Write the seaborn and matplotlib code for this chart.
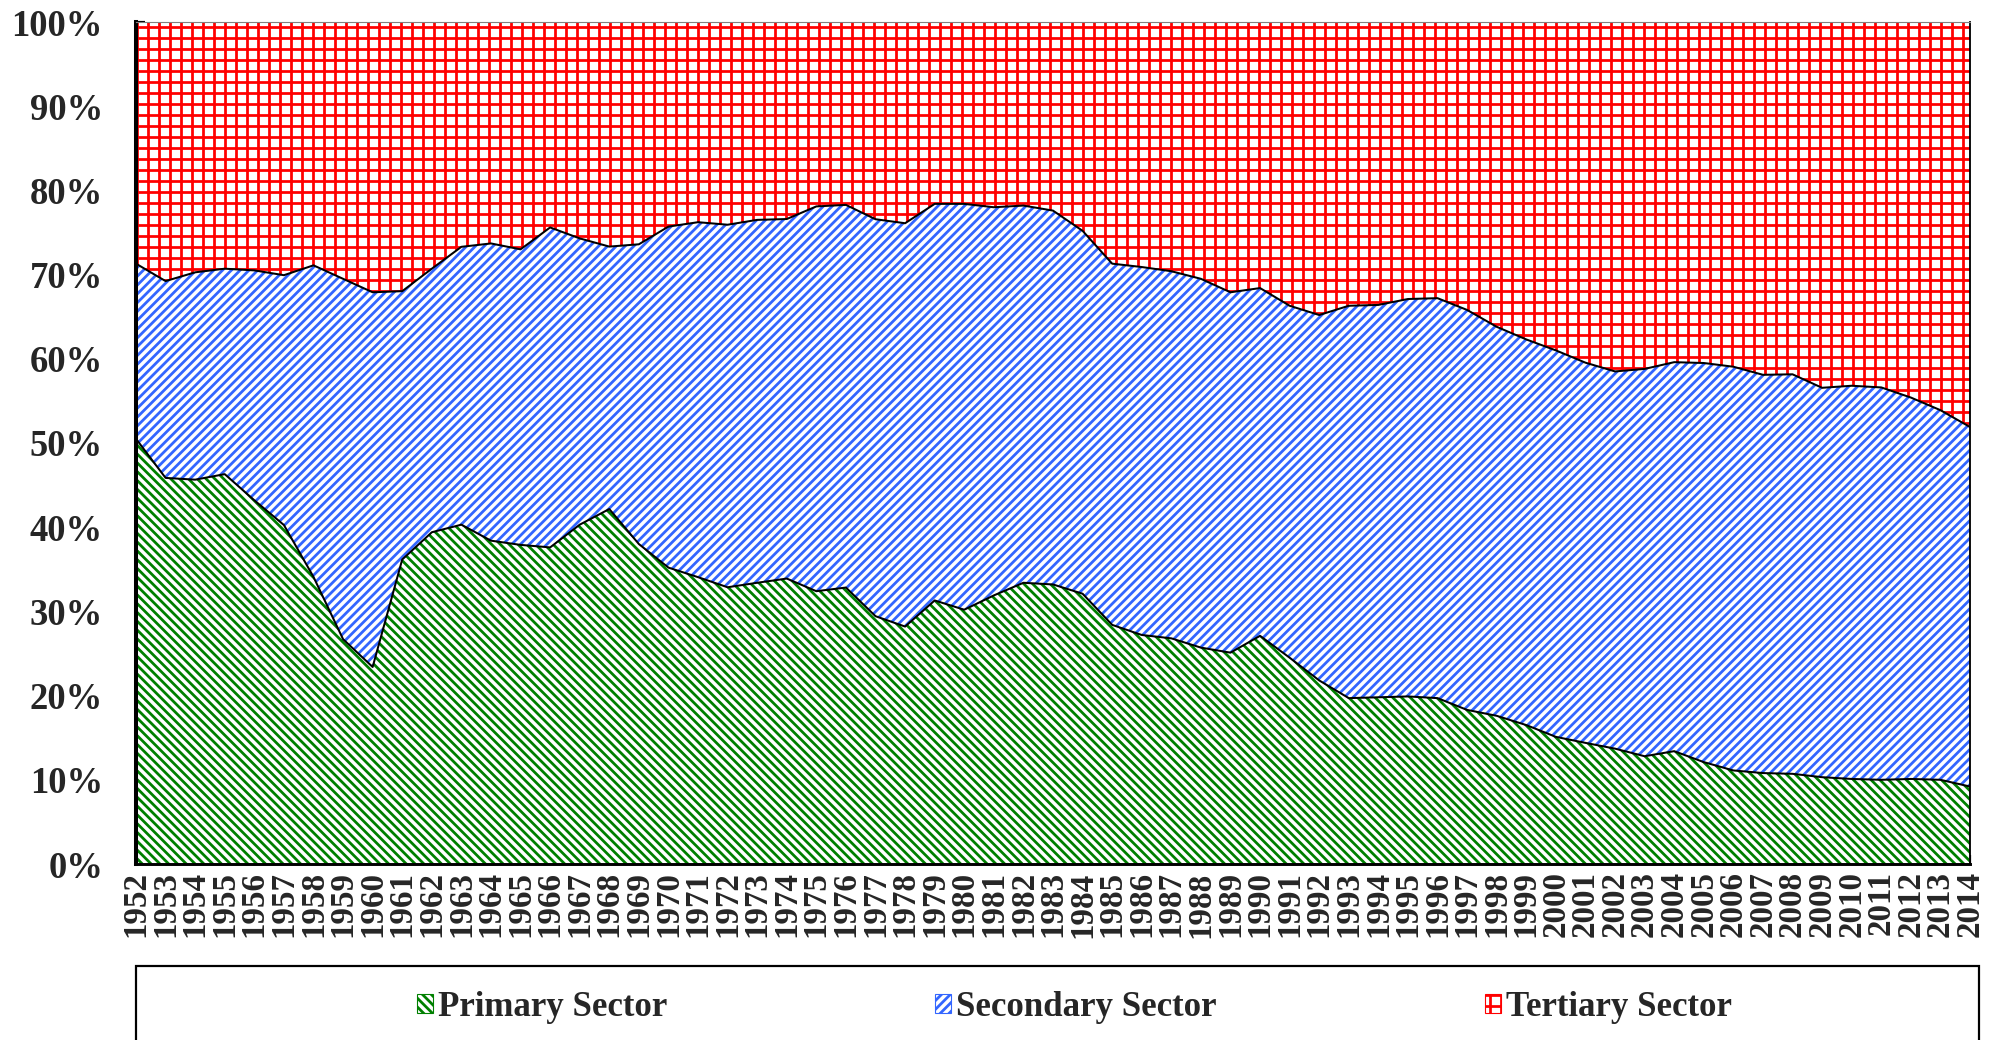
import numpy as np
import pandas as pd
import matplotlib.pyplot as plt
import matplotlib.patches as mpatches
from matplotlib.ticker import PercentFormatter
import seaborn as sns

# Sector shares of output (percent)
years = list(range(1952, 2015))
primary = [50.5, 45.9, 45.6, 46.3, 43.2, 40.3, 34.1, 26.7, 23.4, 36.2,
           39.4, 40.3, 38.4, 37.9, 37.6, 40.3, 42.2, 38.0, 35.2, 34.1,
           32.9, 33.4, 33.9, 32.4, 32.8, 29.4, 28.2, 31.3, 30.2, 31.9,
           33.4, 33.2, 32.1, 28.4, 27.2, 26.8, 25.7, 25.1, 27.1, 24.5,
           21.8, 19.7, 19.8, 19.9, 19.7, 18.3, 17.6, 16.5, 15.1, 14.4,
           13.7, 12.8, 13.4, 12.1, 11.1, 10.8, 10.7, 10.3, 10.1, 10.0,
           10.1, 10.0, 9.2]
secondary = [20.8, 23.4, 24.6, 24.4, 27.3, 29.7, 37.0, 42.8, 44.5, 31.9,
             31.3, 33.0, 35.3, 35.1, 38.0, 34.0, 31.2, 35.6, 40.5, 42.2,
             43.1, 43.1, 42.7, 45.7, 45.4, 47.1, 47.9, 47.1, 48.2, 46.1,
             44.8, 44.4, 43.1, 42.9, 43.7, 43.6, 43.8, 42.8, 41.3, 41.8,
             43.4, 46.6, 46.6, 47.2, 47.5, 47.5, 46.2, 45.8, 45.9, 45.2,
             44.8, 46.0, 46.2, 47.4, 47.9, 47.3, 47.4, 46.2, 46.7, 46.6,
             45.3, 43.9, 42.7]
tertiary = [28.7, 30.8, 29.7, 29.3, 29.5, 30.1, 28.9, 30.5, 32.1, 32.0,
            29.3, 26.7, 26.3, 27.0, 24.4, 25.7, 26.7, 26.4, 24.3, 23.8,
            24.1, 23.5, 23.4, 21.9, 21.7, 23.4, 23.9, 21.6, 21.6, 22.0,
            21.8, 22.4, 24.8, 28.7, 29.1, 29.6, 30.5, 32.1, 31.6, 33.7,
            34.8, 33.7, 33.6, 32.9, 32.8, 34.2, 36.2, 37.7, 39.0, 40.5,
            41.5, 41.2, 40.4, 40.5, 40.9, 41.9, 41.8, 43.4, 43.2, 43.4,
            44.6, 46.1, 48.1]

sectors = ["Primary Sector", "Secondary Sector", "Tertiary Sector"]
colors = ["#008000", "#3366FF", "#FF0000"]
hatches = ["\\\\\\\\\\", "/////", "++"]
hatch_widths = [1.5, 1.5, 1.5]

df = pd.DataFrame({"Primary Sector": primary,
                   "Secondary Sector": secondary,
                   "Tertiary Sector": tertiary}, index=years)
# 100% stacked, like the original spreadsheet chart
shares = df.div(df.sum(axis=1), axis=0) * 100

sns.set_theme(style="white")
plt.rcParams["font.family"] = ["Liberation Serif", "DejaVu Serif"]
plt.rcParams["font.weight"] = "bold"

DPI = 132
fig, ax = plt.subplots(figsize=(1993 / DPI, 1040 / DPI), dpi=DPI)
fig.subplots_adjust(left=136 / 1993, right=1970 / 1993,
                    top=1 - 22 / 1040, bottom=1 - 864 / 1040)

lower = np.zeros(len(shares))
handles = []
for name, color, hatch, hw in zip(sectors, colors, hatches, hatch_widths):
    plt.rcParams["hatch.linewidth"] = hw
    upper = lower + shares[name].values
    pc = ax.fill_between(shares.index, lower, upper, facecolor="white",
                         edgecolor=color, hatch=hatch, linewidth=0, label=name)
    if hasattr(pc, "set_hatch_linewidth"):
        pc.set_hatch_linewidth(hw)
    handles.append(pc)
    lower = upper

# black outlines on the top of the first two layers
cum = shares.cumsum(axis=1)
sns.lineplot(x=cum.index, y=cum["Primary Sector"], color="black", lw=1.1,
             legend=False, ax=ax)
sns.lineplot(x=cum.index, y=cum["Secondary Sector"], color="black", lw=1.1,
             legend=False, ax=ax)

ax.set_xlim(years[0], years[-1])
ax.set_ylim(0, 100)
ax.set_xticks(years)
ax.set_xticklabels([str(y) for y in years], rotation=90, fontweight="bold")
ax.set_yticks(range(0, 101, 10))
ax.yaxis.set_major_formatter(PercentFormatter(decimals=0))
ax.set_xlabel("")
ax.set_ylabel("")

ax.tick_params(axis="y", direction="in", length=5, width=1.2, color="black",
               labelsize=20, pad=18, left=True)
ax.tick_params(axis="x", direction="in", length=5, width=1.2, color="black",
               labelsize=18, pad=4, bottom=True)
for lab in ax.get_yticklabels() + ax.get_xticklabels():
    lab.set_fontweight("bold")

ax.spines["left"].set_linewidth(2.2)
ax.spines["left"].set_color("black")
ax.spines["bottom"].set_linewidth(1.6)
ax.spines["bottom"].set_color("black")
ax.spines["right"].set_linewidth(1.0)
ax.spines["right"].set_color("black")
ax.spines["top"].set_linewidth(0.6)
ax.spines["top"].set_color("#808080")

# legend box sits under the axis and runs off the bottom of the figure
box = mpatches.Rectangle((136 / 1993, -0.05), (1979 - 136) / 1993,
                         0.05 + (1 - 966 / 1040), transform=fig.transFigure,
                         fill=False, edgecolor="black", linewidth=1.2,
                         clip_on=False)
fig.patches.append(box)

leg = fig.legend(handles=handles, labels=sectors, loc="center",
                 bbox_to_anchor=(0.539, 0.031), ncol=3, frameon=False,
                 prop={"size": 19, "weight": "bold"}, columnspacing=7.7,
                 handlelength=0.45, handleheight=0.45, handletextpad=0.15)
for h in leg.legend_handles:
    h.set_linewidth(0.6)

fig.savefig("out.png", dpi=DPI)
